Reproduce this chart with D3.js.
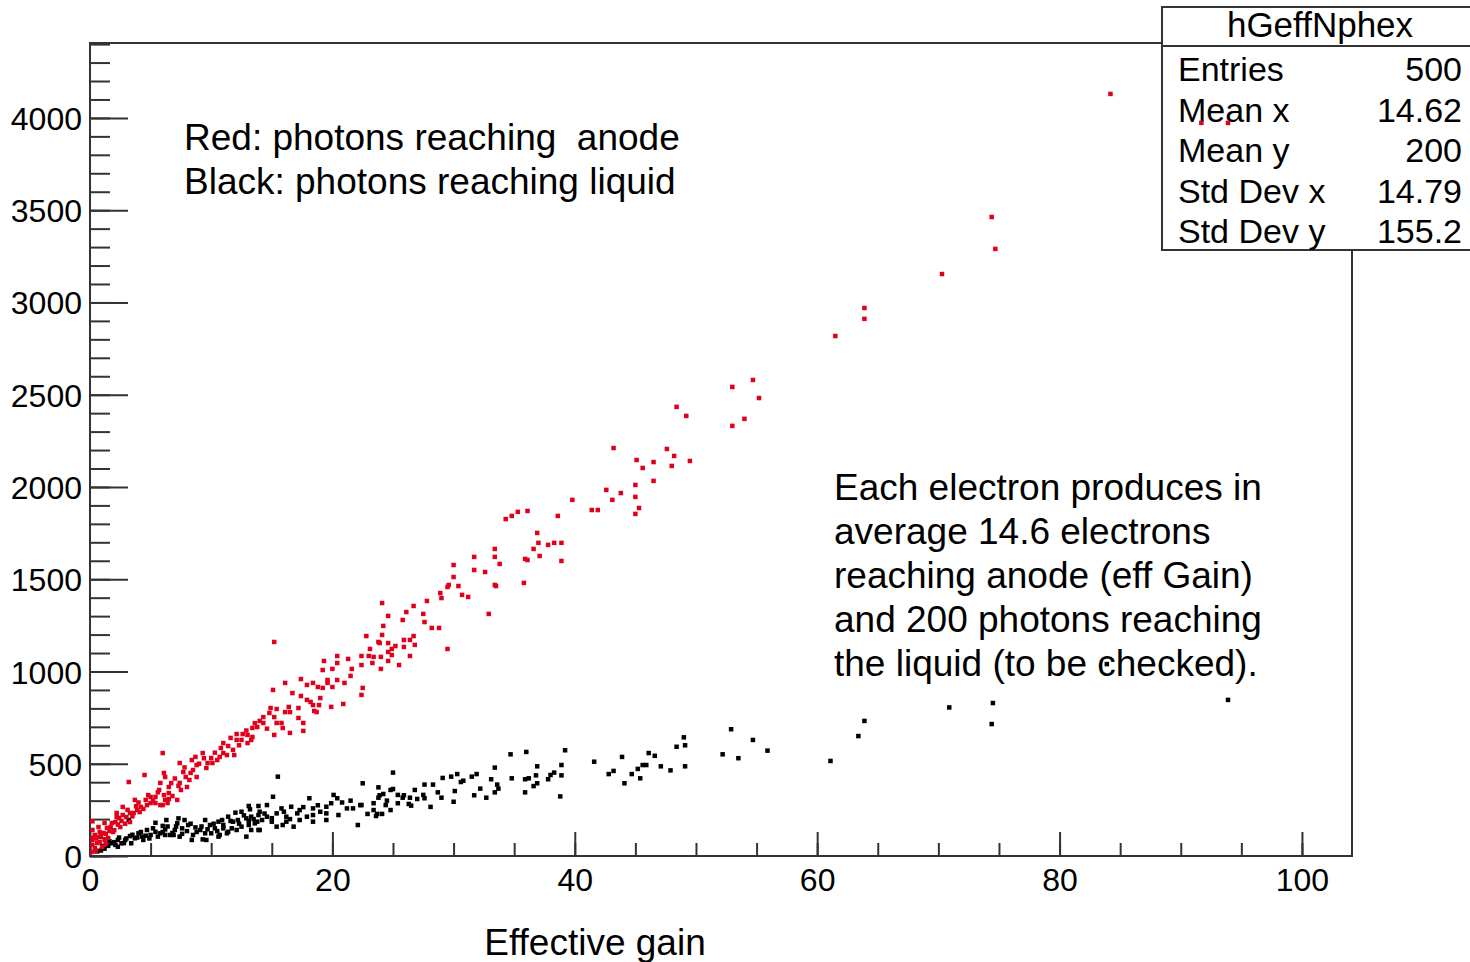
<!DOCTYPE html>
<html>
<head>
<meta charset="utf-8">
<script src="https://cdn.jsdelivr.net/npm/d3@7"></script>
<style>
  html, body { margin: 0; padding: 0; background: #fff; }
  svg { display: block; }
  text { font-family: "Liberation Sans", Arial, Helvetica, sans-serif; fill: #000; }
</style>
</head>
<body>
<svg id="chart" width="1470" height="962"></svg>
<script>
// ---------------- data ----------------
const xMajorTicks = [0, 20, 40, 60, 80, 100];
const yMajorTicks = [0, 500, 1000, 1500, 2000, 2500, 3000, 3500, 4000];
const xTitle = "Effective gain";
const statsTitle = "hGeffNphex";
const statsLabels = ["Entries", "Mean x", "Mean y", "Std Dev x", "Std Dev y"];
const statsValues = ["500", "14.62", "200", "14.79", "155.2"];
const noteTopLeft = ["Red: photons reaching\u00a0\u00a0anode", "Black: photons reaching liquid"];
const noteRight = ["Each electron produces in", "average 14.6 electrons", "reaching anode (eff Gain)", "and 200 photons reaching", "the liquid (to be checked)."];

// red: photons reaching anode [effective gain, photons]
const redPoints = [
[84.2,4130],[91.7,3973],[93.9,3973],[74.4,3463],[74.7,3290],[70.3,3154],[63.9,2970],[63.9,2911],[61.5,2818],
[53.0,2542],[55.2,2482],[53.0,2331],[54.0,2369],[54.7,2580],[48.4,2434],[49.2,2385],
[43.2,2211],[45.1,2146],[46.5,2135],[47.6,2206],[48.2,2168],[49.5,2141],[45.6,2103],[48.0,2114],[46.5,2033],[42.6,1984],[43.8,1967],[43.1,1930],[45.0,2011],[45.0,1946],[45.3,1886],[45.0,1854],[41.4,1875],[41.9,1875],
[39.8,1930],[38.6,1843],[34.3,1826],[34.8,1843],[35.3,1865],[36.1,1870],[36.9,1751],[37.0,1697],[37.8,1686],[38.3,1697],[38.9,1697],[36.6,1664],[37.1,1626],[38.9,1599],[35.9,1610],[36.1,1604],[35.8,1480],
[33.4,1664],[33.4,1621],[33.8,1583],[31.7,1621],[31.7,1550],[32.6,1539],[33.4,1469],[33.5,1463],[30.0,1577],[30.0,1512],[29.6,1469],[29.5,1458],[30.4,1463],[28.9,1425],[29.0,1398],[30.7,1415],[31.2,1404],[32.9,1312],
[27.8,1382],[26.7,1355],[24.1,1371],[26.1,1322],[27.5,1312],[24.6,1301],[25.8,1279],[27.6,1268],[28.2,1236],[28.8,1236],[24.2,1247],[24.1,1198],[26.7,1192],[22.8,1192],[23.8,1160],[23.9,1154],[24.6,1154],[25.2,1138],[25.9,1171],[26.4,1171],[25.9,1133],[26.8,1144],[29.5,1122],[23.1,1122],[24.9,1122],[24.6,1106],[24.9,1089],[22.4,1084],[23.0,1084],[23.4,1079],[24.0,1079],[26.4,1084],[20.4,1084],[21.3,1068],[20.4,1046],[19.3,1057],[22.4,1035],[23.3,1046],[24.6,1057],[25.5,1035],[24.0,1014],[21.6,1014],[20.0,1014],
[15.2,1160],[19.2,1008],[21.5,976],[20.4,954],[19.6,954],[16.1,938],[15.1,900],[17.4,959],[17.9,927],[18.4,938],[18.8,916],[19.2,911],[19.6,938],[20.0,916],[21.0,938],[22.5,911],[22.4,873],[16.7,883],[17.4,867],[17.9,846],[18.2,835],[18.4,818],[19.0,856],[18.9,818],[18.5,786],[18.7,780],[19.9,808],[20.9,824],[17.2,802],[16.4,808],[16.5,780],[17.2,748],[17.6,721],[17.6,678],[16.1,780],[15.4,797],[14.9,802],[14.8,775],[15.2,753],[15.4,721],[15.8,721],[15.9,694],[15.2,656],[16.5,667],[14.3,753],[14.3,721],[13.8,699],[14.0,732],[13.4,694],[13.4,645],[13.3,629],[13.0,656],[13.0,612],[12.5,629],[12.6,661],[12.1,661],[12.1,629],[11.8,575],[11.4,596],[11.3,547],[11.0,558],[11.0,612],[11.9,547],[10.7,537],[10.5,520],[10.1,504],[10.0,531],[9.7,504],[9.6,477],[9.3,558],[8.7,537],[8.8,493],[8.5,466],[8.3,450],[8.8,428],[8.2,412],[7.9,428],[8.0,374],[7.5,358],[7.4,396],[7.7,455],[7.4,504],[6.0,558],[6.1,450],[6.2,428],[5.8,396],[5.7,358],[6.5,374],[6.5,341],[6.5,309],[6.8,325],[7.2,304],[6.2,304],[6.0,276],[6.4,287],[5.8,276],[5.4,320],[5.4,287],[5.0,320],[5.0,287],[4.7,276],[4.6,304],[4.5,439],[4.2,266],[4.1,238],[3.9,249],[3.6,233],[3.3,233],[3.2,401],[3.3,184],[3.0,211],[2.7,222],[2.4,206],[2.2,211],[2.1,184],[1.8,179],[2.5,157],[1.7,157],[1.4,152],[1.2,179],[1.9,130],[1.1,125],[0.8,130],[0.7,103],[0.4,114],[0.2,87],[0.2,188],[0.6,70],[0.8,76],[0.2,60],[0.4,43],[0.2,22],[1.0,49],[1.2,87],[1.5,98],[0.2,141],[0.7,157],[2.7,266],[2.2,233],[3.7,304],
[0.5,95],[0.9,110],[1.3,120],[1.6,135],[2.0,140],[2.3,170],[2.6,190],[2.9,175],[3.1,250],[3.5,215],[3.8,270],[4.0,290],[4.4,255],[4.8,330],[5.2,300],[5.6,345],[6.1,330],[6.7,395],[7.0,420],[7.3,380],[7.8,480],[8.4,520],[9.0,500],[9.4,530],[10.3,560],[10.8,585],[11.6,640],[12.3,600],[12.9,680],[13.6,720],[14.6,690],[0.3,100],[0.5,30],[1.3,65]
];

// black: photons reaching liquid [effective gain, photons]
const blackPoints = [
[93.9,846],[83.9,1040],[74.5,829],[74.4,715],[70.9,805],[63.9,732],[63.4,650],[61.1,515],
[52.9,687],[54.7,629],[55.9,571],[52.2,551],[53.5,530],[49.0,643],[48.4,592],[49.1,600],[49.1,486],[46.1,558],[46.6,543],[47.1,486],[47.9,464],[45.6,493],[45.9,493],[45.2,472],[44.7,444],[45.4,421],[44.1,394],[43.9,537],[43.2,461],[42.8,444],[41.6,511],[39.2,573],[38.9,493],[38.9,437],[38.8,323],[38.3,452],[38.0,439],[37.8,416],[36.9,486],[36.8,437],[36.9,394],[36.6,379],[36.0,564],[34.7,551],[34.8,421],[35.9,416],[36.2,421],[35.9,345],[33.4,479],[33.1,416],[33.6,387],[33.7,365],[33.4,345],[32.7,316],[31.9,444],[31.5,430],[32.2,365],[31.7,329],[30.8,408],[30.6,401],[30.3,444],[29.8,430],[30.1,352],[30.0,294],[29.1,423],[28.7,345],[29.0,316],[28.3,387],[27.6,387],[27.6,313],[28.1,266],[26.8,358],[27.0,309],[27.5,331],[26.4,316],[26.3,282],[26.5,273],[25.9,329],[25.8,316],[25.4,331],[25.4,286],[25.0,452],[24.8,358],[25.0,363],[24.8,249],[24.5,300],[24.4,276],[24.2,336],[23.9,329],[23.8,372],[23.8,316],[24.1,228],[23.7,228],[23.4,249],[23.6,217],[22.9,228],[23.4,286],[22.5,394],[22.4,276],
[15.5,430],[15.1,321],[18.1,313],[20.1,331],[20.4,313],[22.1,168],[13.1,271],[14.6,276],[15.8,258],[16.6,267],[17.3,249],[18.4,258],[19.0,240],[19.5,267],[19.9,286],[21.2,258],[21.7,258],[22.3,276],[20.5,222],[19.5,231],[18.4,222],[17.9,213],[17.1,231],[16.2,213],[15.4,231],[14.6,213],[14.0,240],[15.0,186],[16.2,186],[17.3,195],[18.4,186],[19.5,195],[15.9,168],[13.8,186],[16.8,159],[14.0,141],[12.9,105],[15.4,159],[9.6,87],[10.6,105],[11.3,123],
[13.9,271],[13.2,253],[12.5,240],[12.0,235],[11.4,213],[11.8,186],[12.2,195],[12.9,204],[13.3,213],[13.9,222],[14.2,195],[13.6,177],[13.1,168],[13.9,141],[12.5,159],[11.7,150],[11.0,168],[10.6,186],[10.3,150],[10.7,114],[9.9,168],[9.5,195],[9.1,141],[8.7,155],[8.1,168],[7.8,195],[9.3,90],[8.5,114],[7.6,150],[7.2,177],[7.0,141],[6.3,195],[6.6,114],[6.2,144],[5.8,123],[5.4,131],[5.4,180],[5.0,114],[4.7,141],[4.3,105],[4.0,123],[3.7,96],[3.3,108],[2.9,87],[2.6,69],[2.3,87],[2.1,60],[1.8,69],[3.2,195],[6.0,163],[6.9,114],[7.4,105],[8.4,87],[9.5,123],[10.0,123],[11.4,131],[12.1,141],[13.3,141],[13.1,191],[10.9,195],[7.3,204],[6.2,114],[4.4,87],[3.4,69],[2.3,50],[1.2,40],[0.9,30],[1.5,55],[0.6,25],
[1.0,55],[1.6,80],[2.0,75],[2.4,100],[2.8,70],[3.0,95],[3.5,115],[3.9,100],[4.2,130],[4.6,110],[4.9,95],[5.2,150],[5.6,105],[6.0,130],[6.4,160],[6.8,125],[7.1,160],[7.6,120],[8.0,135],[8.3,175],[8.8,130],[9.2,160],[9.7,145],[10.2,175],[10.5,135],[11.0,150],[11.6,190],[12.3,175],[12.7,220],[13.5,200],[14.4,230],[15.0,205],[16.0,240],[16.5,200],[17.6,265],[18.8,275],[20.8,290],[21.5,300]
];

// ---------------- drawing ----------------
const svg = d3.select("#chart");
const frame = { left: 90, right: 1352, top: 43, bottom: 856 };
const x = d3.scaleLinear().domain([0, 104.13]).range([frame.left, frame.right]);
const y = d3.scaleLinear().domain([0, 4406]).range([frame.bottom, frame.top]);
const axisColor = "#333";

// frame
svg.append("rect")
  .attr("x", frame.left).attr("y", frame.top)
  .attr("width", frame.right - frame.left).attr("height", frame.bottom - frame.top)
  .attr("fill", "none").attr("stroke", axisColor).attr("stroke-width", 2);

// y axis minor & major ticks (inside the frame)
const yMinor = d3.range(0, 4401, 100);
svg.append("g").attr("transform", `translate(${frame.left},0)`)
  .call(d3.axisLeft(y).tickValues(yMinor).tickSizeInner(-20).tickSizeOuter(0).tickFormat(""))
  .call(g => g.select(".domain").remove())
  .call(g => g.selectAll("line").attr("stroke", axisColor).attr("stroke-width", 2));
svg.append("g").attr("transform", `translate(${frame.left},0)`)
  .call(d3.axisLeft(y).tickValues(yMajorTicks).tickSizeInner(-38).tickSizeOuter(0).tickPadding(8).tickFormat(d3.format("d")))
  .call(g => g.select(".domain").remove())
  .call(g => g.selectAll("line").attr("stroke", axisColor).attr("stroke-width", 2))
  .call(g => g.selectAll("text").attr("font-size", 32).attr("font-family", "Liberation Sans, Arial, sans-serif").attr("fill", "#000").attr("dy", "0.36em"));

// x axis minor & major ticks
const xMinor = d3.range(0, 104, 5);
svg.append("g").attr("transform", `translate(0,${frame.bottom})`)
  .call(d3.axisBottom(x).tickValues(xMinor).tickSizeInner(-13).tickSizeOuter(0).tickFormat(""))
  .call(g => g.select(".domain").remove())
  .call(g => g.selectAll("line").attr("stroke", axisColor).attr("stroke-width", 2));
svg.append("g").attr("transform", `translate(0,${frame.bottom})`)
  .call(d3.axisBottom(x).tickValues(xMajorTicks).tickSizeInner(-24).tickSizeOuter(0).tickPadding(12).tickFormat(d3.format("d")))
  .call(g => g.select(".domain").remove())
  .call(g => g.selectAll("line").attr("stroke", axisColor).attr("stroke-width", 2))
  .call(g => g.selectAll("text").attr("font-size", 32).attr("font-family", "Liberation Sans, Arial, sans-serif").attr("fill", "#000"));

// x title
svg.append("text").attr("x", 595).attr("y", 955).attr("text-anchor", "middle")
  .attr("font-size", 37).text(xTitle);

// black markers
const ms = 4.5;
svg.append("g").selectAll("rect").data(blackPoints).join("rect")
  .attr("x", d => x(d[0]) - ms / 2).attr("y", d => y(d[1]) - ms / 2)
  .attr("width", ms).attr("height", ms).attr("fill", "#000");

// annotations
svg.append("g").selectAll("text").data(noteTopLeft).join("text")
  .attr("x", 184).attr("y", (d, i) => 150 + i * 44)
  .attr("font-size", 37).text(d => d);
svg.append("g").selectAll("text").data(noteRight).join("text")
  .attr("x", 834).attr("y", (d, i) => 500 + i * 44)
  .attr("font-size", 37).text(d => d);

// stats box
const sb = svg.append("g");
sb.append("rect").attr("x", 1162).attr("y", 7).attr("width", 330).attr("height", 243)
  .attr("fill", "#fff").attr("stroke", axisColor).attr("stroke-width", 2);
sb.append("line").attr("x1", 1162).attr("x2", 1492).attr("y1", 46).attr("y2", 46)
  .attr("stroke", axisColor).attr("stroke-width", 2);
sb.append("text").attr("x", 1320).attr("y", 37).attr("text-anchor", "middle")
  .attr("font-size", 35).text(statsTitle);
sb.selectAll("text.lab").data(statsLabels).join("text").attr("class", "lab")
  .attr("x", 1178).attr("y", (d, i) => 81 + i * 40.5).attr("font-size", 34).text(d => d);
sb.selectAll("text.val").data(statsValues).join("text").attr("class", "val")
  .attr("x", 1462).attr("y", (d, i) => 81 + i * 40.5).attr("text-anchor", "end")
  .attr("font-size", 34).text(d => d);

// red markers (drawn last, they show through the stats box as in the reference)
svg.append("g").selectAll("rect").data(redPoints).join("rect")
  .attr("x", d => x(d[0]) - ms / 2).attr("y", d => y(d[1]) - ms / 2)
  .attr("width", ms).attr("height", ms).attr("fill", "#e0001b");
</script>
</body>
</html>
